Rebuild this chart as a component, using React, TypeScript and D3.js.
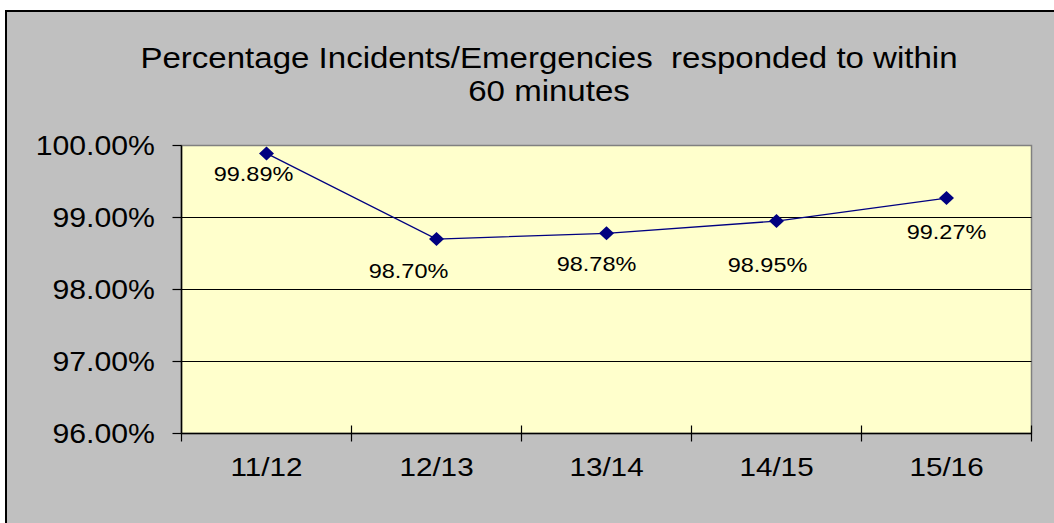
import React, { useEffect, useRef } from 'react';
import * as d3 from 'd3';

const categories = ['11/12', '12/13', '13/14', '14/15', '15/16'];
const values = [0.9989, 0.987, 0.9878, 0.9895, 0.9927];
const yTicks = [0.96, 0.97, 0.98, 0.99, 1.0];
const titleLines = ['Percentage Incidents/Emergencies  responded to within', '60 minutes'];

// Excel-style hand-nudged label offsets (dx, dy from the marker)
const labelNudge = [[-13, 28], [-28, 39], [-10, 38], [-9, 51], [0, 41]];

const W = 1054;
const H = 523;
const FONT = 'Arial, "Liberation Sans", sans-serif';
const STRETCH = 1.12; // the source picture is a bit wider than tall

const App = () => {
  const ref = useRef<SVGSVGElement>(null);

  useEffect(() => {
    const svg = d3.select(ref.current);
    svg.selectAll('*').remove();

    const left = 181.5, right = 1031.5, top = 145.5, bottom = 433.5;

    const x = d3.scaleBand<string>().domain(categories).range([left, right]).padding(0);
    const y = d3.scaleLinear().domain([0.96, 1.0]).range([bottom, top]);
    const cx = (c: string) => (x(c) as number) + x.bandwidth() / 2;

    // chart area
    svg.append('rect').attr('width', W).attr('height', H).attr('fill', '#fff');
    svg.append('rect')
      .attr('x', 6).attr('y', 11)
      .attr('width', W + 10).attr('height', H + 10)
      .attr('fill', '#C0C0C0')
      .attr('stroke', '#000').attr('stroke-width', 2);

    const stretched = (sel: any, tx: number, ty: number) =>
      sel.attr('transform', `translate(${tx},${ty}) scale(${STRETCH},1)`);

    // title
    titleLines.forEach((t, i) => {
      stretched(svg.append('text'), 549, 68 + i * 33)
        .attr('text-anchor', 'middle')
        .style('font-family', FONT)
        .style('font-size', '29.5px')
        .style('white-space', 'pre')
        .attr('fill', '#000')
        .text(t);
    });

    // plot area
    svg.append('rect')
      .attr('x', left).attr('y', top)
      .attr('width', right - left).attr('height', bottom - top)
      .attr('fill', '#FFFFCC')
      .attr('stroke', '#808080').attr('stroke-width', 1.5);

    // gridlines
    svg.append('g')
      .selectAll('line')
      .data(yTicks.filter(d => d > 0.96 && d < 1.0))
      .enter().append('line')
      .attr('x1', left).attr('x2', right)
      .attr('y1', d => y(d)).attr('y2', d => y(d))
      .attr('stroke', '#000').attr('stroke-width', 1.2);

    // axes lines
    svg.append('line')
      .attr('x1', left).attr('x2', left).attr('y1', top).attr('y2', bottom)
      .attr('stroke', '#000').attr('stroke-width', 1.5);
    svg.append('line')
      .attr('x1', left).attr('x2', right).attr('y1', bottom).attr('y2', bottom)
      .attr('stroke', '#000').attr('stroke-width', 1.5);

    // y ticks + labels
    const yt = svg.append('g');
    yTicks.forEach(v => {
      yt.append('line')
        .attr('x1', left - 9).attr('x2', left)
        .attr('y1', y(v)).attr('y2', y(v))
        .attr('stroke', '#000').attr('stroke-width', 1.2);
      stretched(yt.append('text'), 155, y(v))
        .attr('dy', '0.36em')
        .attr('text-anchor', 'end')
        .style('font-family', FONT)
        .style('font-size', '27px')
        .text(d3.format('.2%')(v));
    });

    // x ticks at category boundaries
    const bounds = categories.map(c => x(c) as number).concat([right]);
    svg.append('g')
      .selectAll('line')
      .data(bounds)
      .enter().append('line')
      .attr('x1', d => d).attr('x2', d => d)
      .attr('y1', (d, i) => (i === 0 ? bottom : bottom - 8))
      .attr('y2', bottom + 8)
      .attr('stroke', '#000').attr('stroke-width', 1.2);

    categories.forEach(c => {
      stretched(svg.append('text'), cx(c), 476)
        .attr('text-anchor', 'middle')
        .style('font-family', FONT)
        .style('font-size', '26.5px')
        .text(c);
    });

    // series line
    const line = d3.line<number>()
      .x((d, i) => cx(categories[i]))
      .y(d => y(d));
    svg.append('path')
      .datum(values)
      .attr('d', line)
      .attr('fill', 'none')
      .attr('stroke', '#000080')
      .attr('stroke-width', 1.3);

    // diamond markers
    svg.append('g')
      .selectAll('path')
      .data(values)
      .enter().append('path')
      .attr('d', 'M0,-7L7.5,0L0,7L-7.5,0Z')
      .attr('transform', (d, i) => `translate(${cx(categories[i])},${y(d)})`)
      .attr('fill', '#000080');

    // data labels
    values.forEach((v, i) => {
      stretched(svg.append('text'), cx(categories[i]) + labelNudge[i][0], y(v) + labelNudge[i][1])
        .attr('text-anchor', 'middle')
        .style('font-family', FONT)
        .style('font-size', '21px')
        .text(d3.format('.2%')(v));
    });
  }, []);

  return (
    <svg
      ref={ref}
      width={W}
      height={H}
      style={{ position: 'absolute', left: 0, top: 0, display: 'block' }}
    />
  );
};

export default App;
